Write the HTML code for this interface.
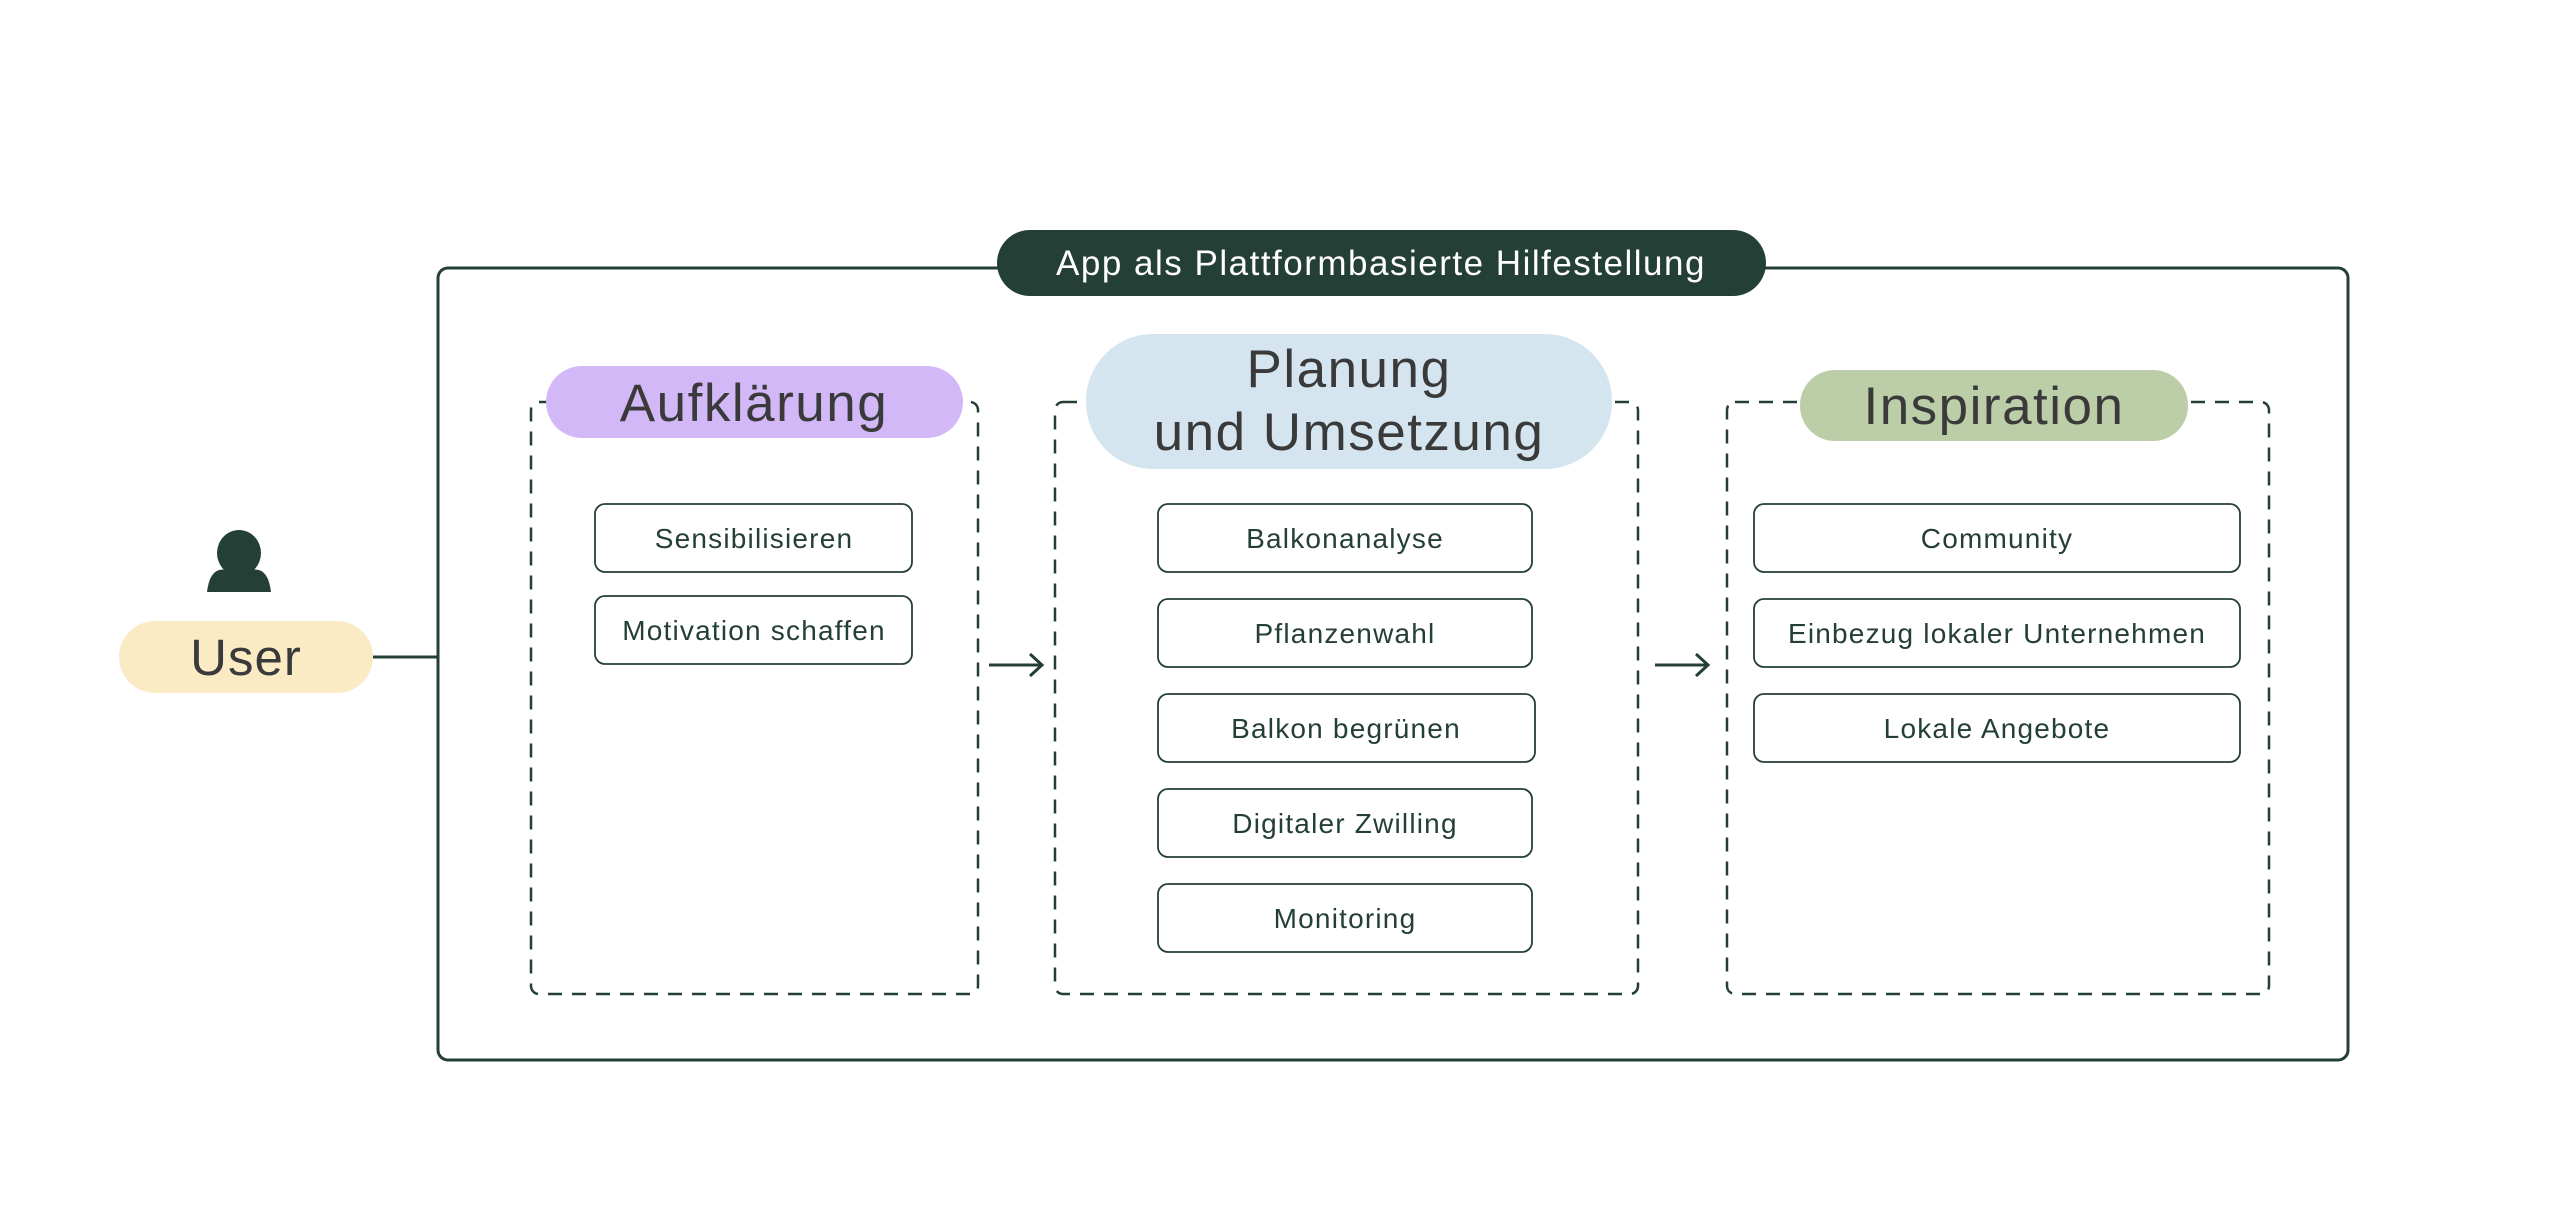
<!DOCTYPE html>
<html><head><meta charset="utf-8"><style>
html,body{margin:0;padding:0;background:#fff;}
svg{display:block}
text{font-family:"Liberation Sans",sans-serif;}
</style></head><body>
<svg width="2564" height="1224" viewBox="0 0 2564 1224" xmlns="http://www.w3.org/2000/svg">
<rect width="2564" height="1224" fill="#fff"/>
<rect x="438" y="268" width="1910" height="792" rx="10" fill="none" stroke="#243f35" stroke-width="3"/>
<rect x="997" y="230" width="769" height="66" rx="33" fill="#243f35"/>
<text x="1381" y="275" font-size="35" letter-spacing="1.5" fill="#fff" text-anchor="middle">App als Plattformbasierte Hilfestellung</text>
<line x1="373" y1="657" x2="438" y2="657" stroke="#243f35" stroke-width="3"/>
<rect x="119" y="621" width="254" height="72" rx="36" fill="#faebc5"/>
<text x="246" y="675" font-size="51" letter-spacing="1" fill="#3a3a3a" text-anchor="middle">User</text>
<ellipse cx="239" cy="553" rx="22" ry="23" fill="#243f35"/>
<path d="M207 592 Q210 566 227 570 L251 570 Q268 566 271 592 Z" fill="#243f35"/>
<g fill="none" stroke="#243f35" stroke-width="2.5" stroke-dasharray="14 10">
<rect x="531" y="402" width="447" height="592" rx="8"/>
<rect x="1055" y="402" width="583" height="592" rx="8"/>
<rect x="1727" y="402" width="542" height="592" rx="8"/>
</g>
<g stroke="#243f35" stroke-width="3" fill="none">
<line x1="989" y1="665" x2="1041" y2="665"/><path d="M1030 654 L1042 665 L1030 676"/>
<line x1="1655" y1="665" x2="1707" y2="665"/><path d="M1696 654 L1708 665 L1696 676"/>
</g>
<rect x="546" y="366" width="417" height="72" rx="36" fill="#d3b8f7"/>
<text x="754" y="421" font-size="53" letter-spacing="1.5" fill="#3a3a3a" text-anchor="middle">Aufklärung</text>
<rect x="1086" y="334" width="526" height="135" rx="67" fill="#d4e5ef"/>
<text x="1349" y="387" font-size="53" letter-spacing="1.5" fill="#3a3a3a" text-anchor="middle">Planung</text>
<text x="1349" y="450" font-size="53" letter-spacing="1.5" fill="#3a3a3a" text-anchor="middle">und Umsetzung</text>
<rect x="1800" y="370" width="388" height="71" rx="35" fill="#bccea8"/>
<text x="1994" y="424" font-size="53" letter-spacing="1.5" fill="#3a3a3a" text-anchor="middle">Inspiration</text>
<g fill="#fff" stroke="#243f35" stroke-width="1.8">
<rect x="595" y="504" width="317" height="68" rx="10"/>
<rect x="595" y="596" width="317" height="68" rx="10"/>
<rect x="1158" y="504" width="374" height="68" rx="10"/>
<rect x="1158" y="599" width="374" height="68" rx="10"/>
<rect x="1158" y="694" width="377" height="68" rx="10"/>
<rect x="1158" y="789" width="374" height="68" rx="10"/>
<rect x="1158" y="884" width="374" height="68" rx="10"/>
<rect x="1754" y="504" width="486" height="68" rx="10"/>
<rect x="1754" y="599" width="486" height="68" rx="10"/>
<rect x="1754" y="694" width="486" height="68" rx="10"/>
</g>
<g font-size="28" letter-spacing="1.2" fill="#243f35" text-anchor="middle">
<text x="754" y="548">Sensibilisieren</text>
<text x="754" y="640">Motivation schaffen</text>
<text x="1345" y="548">Balkonanalyse</text>
<text x="1345" y="643">Pflanzenwahl</text>
<text x="1346" y="738">Balkon begrünen</text>
<text x="1345" y="833">Digitaler Zwilling</text>
<text x="1345" y="928">Monitoring</text>
<text x="1997" y="548">Community</text>
<text x="1997" y="643">Einbezug lokaler Unternehmen</text>
<text x="1997" y="738">Lokale Angebote</text>
</g>
</svg>
</body></html>
